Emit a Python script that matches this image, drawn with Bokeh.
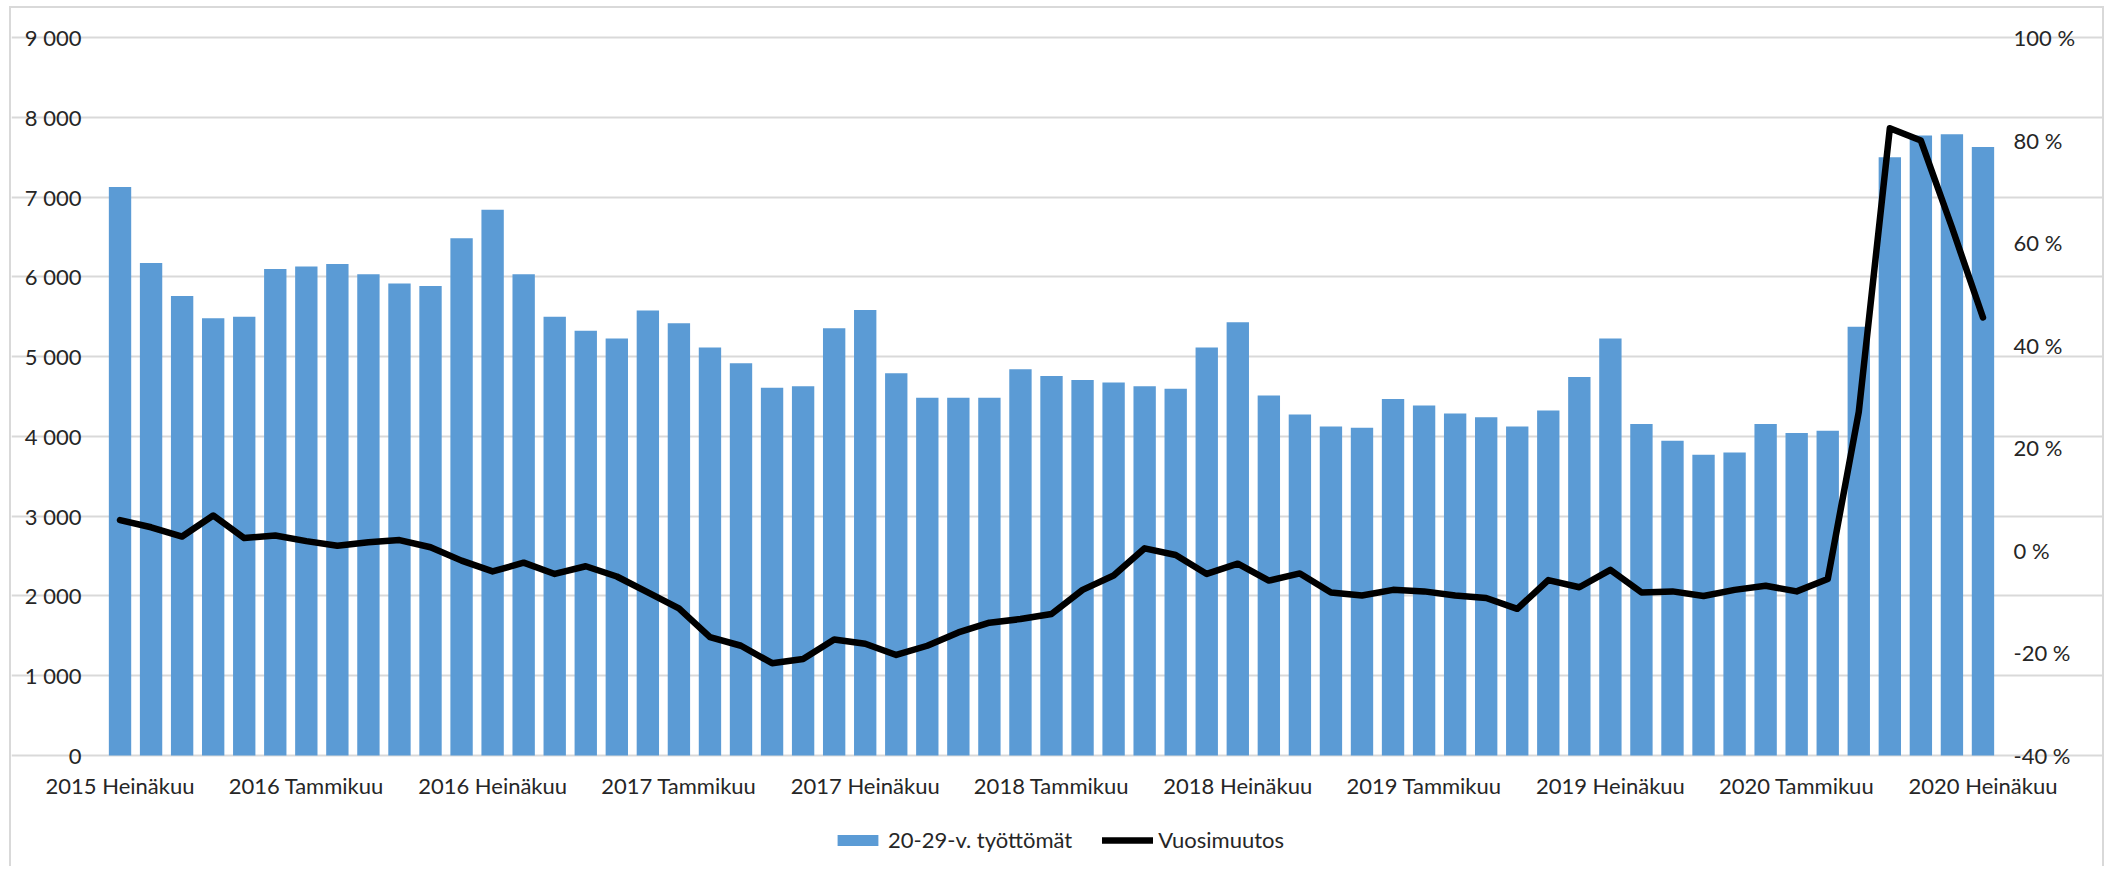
from bokeh.plotting import figure
from bokeh.models import Range1d, LinearAxis, FixedTicker, Legend, LegendItem, ColumnDataSource
from bokeh.embed import file_html
from bokeh.resources import INLINE

# ---- data ----
MONTH_NAMES = ["Tammikuu", "Helmikuu", "Maaliskuu", "Huhtikuu", "Toukokuu", "Kesäkuu",
               "Heinäkuu", "Elokuu", "Syyskuu", "Lokakuu", "Marraskuu", "Joulukuu"]
START_YEAR = 2015
START_MONTH = 7  # Heinäkuu

unemployed_20_29 = [7126, 6174, 5759, 5482, 5499, 6099, 6128, 6161, 6031, 5918, 5885, 6484,
                    6841, 6031, 5499, 5323, 5226, 5579, 5419, 5113, 4916, 4610, 4627, 5356,
                    5583, 4790, 4484, 4484, 4484, 4841, 4757, 4706, 4677, 4627, 4597, 5113,
                    5432, 4514, 4275, 4125, 4109, 4468, 4388, 4287, 4241, 4125, 4325, 4744,
                    5226, 4155, 3946, 3770, 3799, 4155, 4042, 4071, 5373, 7499, 7771, 7788,
                    7629]

annual_change_pct = [5.9, 4.5, 2.7, 6.8, 2.4, 2.9, 1.8, 0.9, 1.6, 2.0, 0.6, -2.0,
                     -4.1, -2.4, -4.6, -3.1, -5.1, -8.2, -11.3, -16.9, -18.6, -22.0, -21.2, -17.4,
                     -18.2, -20.4, -18.6, -16.0, -14.1, -13.4, -12.4, -7.7, -4.9, 0.4, -0.9, -4.6,
                     -2.6, -5.9, -4.5, -8.2, -8.8, -7.7, -8.0, -8.8, -9.3, -11.4, -5.8, -7.2,
                     -3.8, -8.2, -8.0, -8.9, -7.7, -6.9, -8.0, -5.6, 27.0, 82.3, 79.9, 63.0,
                     45.4]

LEFT_TICKS = [0, 1000, 2000, 3000, 4000, 5000, 6000, 7000, 8000, 9000]
LEFT_LABELS = ["0", "1 000", "2 000", "3 000", "4 000", "5 000", "6 000", "7 000", "8 000", "9 000"]
RIGHT_TICKS = [-40, -20, 0, 20, 40, 60, 80, 100]
RIGHT_LABELS = ["-40 %", "-20 %", "0 %", "20 %", "40 %", "60 %", "80 %", "100 %"]

# month categories
months = []
for i in range(len(unemployed_20_29)):
    m = (START_MONTH - 1 + i) % 12
    y = START_YEAR + (START_MONTH - 1 + i) // 12
    months.append(f"{y} {MONTH_NAMES[m]}")

n_months = len(months)
x_idx = list(range(n_months))
label_idx = x_idx[::6]

FONT = "Lato"
TEXT_COLOR = "#262626"
FS = "22px"

# ---- layout geometry (pixels) ----
CANVAS_W = 2091
PLOT_LEFT = 93            # left edge of the bar area inside the canvas
PLOT_W = 1894             # width of the bar area
PLOT_TOP = 29             # top of the value area inside the canvas
PLOT_H = 718              # height of the value area (0 .. 9000)
BELOW_H = 107             # room under the value area for category labels and legend
FRAME_H = PLOT_TOP + PLOT_H + BELOW_H

px_per_cat = PLOT_W / n_months
x_lo, x_hi = -0.5, n_months - 0.5
x_start = x_lo - PLOT_LEFT / px_per_cat
x_end = x_hi + (CANVAS_W - PLOT_LEFT - PLOT_W) / px_per_cat

LEFT_MIN, LEFT_MAX, RIGHT_MIN, RIGHT_MAX = 0, 9000, -40, 100
lu = (LEFT_MAX - LEFT_MIN) / PLOT_H
ru = (RIGHT_MAX - RIGHT_MIN) / PLOT_H
left_range = (LEFT_MIN - BELOW_H * lu, LEFT_MAX + PLOT_TOP * lu)
right_range = (RIGHT_MIN - BELOW_H * ru, RIGHT_MAX + PLOT_TOP * ru)

src = ColumnDataSource(dict(x=x_idx, month=months, n=unemployed_20_29, pct=annual_change_pct))

p = figure(frame_width=CANVAS_W, frame_height=FRAME_H,
           min_border_left=0, min_border_right=0, min_border_top=0, min_border_bottom=4,
           x_range=Range1d(x_start, x_end), y_range=Range1d(*left_range),
           output_backend="svg", toolbar_location=None,
           background_fill_color="white", border_fill_color="white")
p.outline_line_color = None
p.styles = {"margin-left": "9px", "margin-top": "6px",
            "border-left": "2px solid #D9D9D9", "border-top": "2px solid #D9D9D9",
            "border-right": "2px solid #D9D9D9"}

p.extra_y_ranges = {"pct": Range1d(*right_range)}

# grid
p.xgrid.visible = False
p.ygrid.ticker = FixedTicker(ticks=LEFT_TICKS)
p.ygrid.bounds = (x_lo, x_hi)
p.ygrid.grid_line_color = "#D9D9D9"
p.ygrid.grid_line_width = 2

# left axis
ya = p.yaxis[0]
ya.fixed_location = x_lo
ya.ticker = FixedTicker(ticks=LEFT_TICKS)
ya.major_label_overrides = {t: l for t, l in zip(LEFT_TICKS, LEFT_LABELS)}
ya.axis_line_color = None
ya.major_tick_line_color = None
ya.minor_tick_line_color = None
ya.major_label_standoff = 17
ya.major_label_text_font = FONT
ya.major_label_text_font_size = FS
ya.major_label_text_color = TEXT_COLOR

# right axis
ra = LinearAxis(y_range_name="pct", ticker=FixedTicker(ticks=RIGHT_TICKS), fixed_location=x_hi)
ra.major_label_overrides = {t: l for t, l in zip(RIGHT_TICKS, RIGHT_LABELS)}
ra.axis_line_color = None
ra.major_tick_line_color = None
ra.minor_tick_line_color = None
ra.major_label_standoff = 9
ra.major_label_text_font = FONT
ra.major_label_text_font_size = FS
ra.major_label_text_color = TEXT_COLOR
p.add_layout(ra, "right")

# bottom axis, drawn at value 0
xa = p.xaxis[0]
xa.fixed_location = 0
xa.bounds = (x_lo, x_hi)
xa.ticker = FixedTicker(ticks=label_idx)
xa.major_label_overrides = {i: months[i] for i in label_idx}
xa.axis_line_color = None
xa.major_tick_line_color = None
xa.minor_tick_line_color = None
xa.major_label_standoff = 10
xa.major_label_text_font = FONT
xa.major_label_text_font_size = FS
xa.major_label_text_color = TEXT_COLOR

bars = p.vbar(x="x", top="n", bottom=0, width=0.72, source=src, fill_color="#5B9BD5", line_color=None)
line = p.line(x="x", y="pct", source=src, y_range_name="pct", line_color="black",
              line_width=6.5, line_join="round", line_cap="round")

legend = Legend(items=[LegendItem(label="20-29-v. työttömät", renderers=[bars]),
                       LegendItem(label="Vuosimuutos", renderers=[line])],
                orientation="horizontal", location=(821, 9))
legend.glyph_width = 51
legend.glyph_height = 14
legend.label_standoff = 5
legend.spacing = 30
legend.padding = 0
legend.margin = 0
legend.border_line_color = None
legend.background_fill_alpha = 0
legend.label_text_font = FONT
legend.label_text_font_size = FS
legend.label_text_color = TEXT_COLOR
p.add_layout(legend)

open("out.html", "w").write(file_html(p, INLINE))
